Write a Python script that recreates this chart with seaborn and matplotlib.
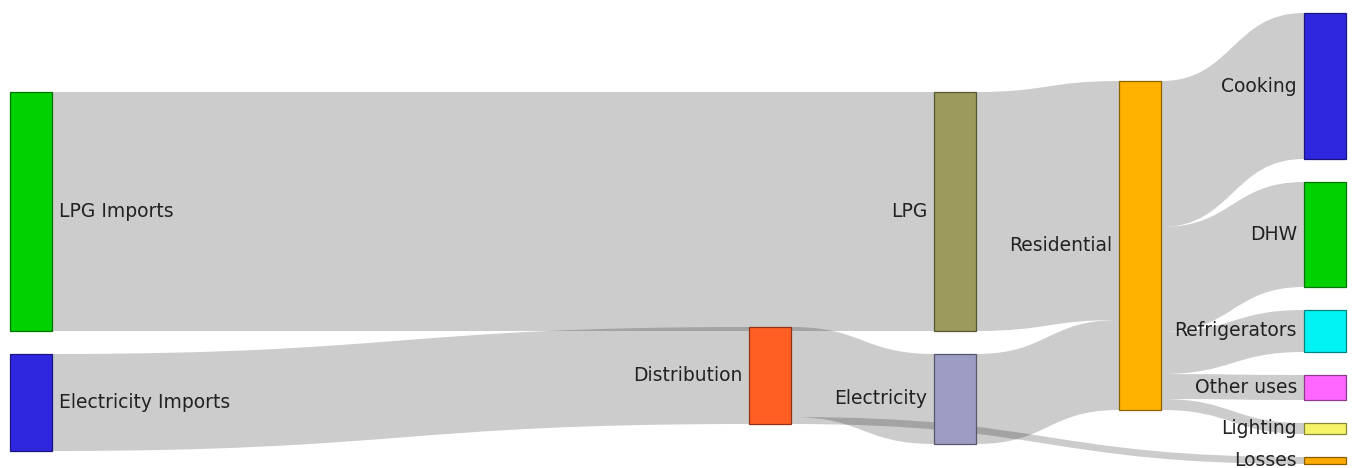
import matplotlib
matplotlib.use("Agg")
import matplotlib.pyplot as plt
from matplotlib.path import Path
from matplotlib.patches import PathPatch, Rectangle
import matplotlib.colors as mcolors
import seaborn as sns

# data
node_labels = ["LPG Imports", "Electricity Imports", "Distribution", "LPG", "Electricity",
               "Residential", "Cooking", "DHW", "Refrigerators", "Other uses", "Lighting", "Losses"]
link_source = [0, 1, 2, 2, 3, 4, 5, 5, 5, 5, 5]
link_target = [3, 2, 4, 11, 5, 5, 6, 7, 8, 9, 10]
link_value = [239, 97, 90, 7, 239, 90, 146, 105, 42, 25, 11]

# layout / style
node_x = [0, 0, 4 / 7, 5 / 7, 5 / 7, 6 / 7, 1, 1, 1, 1, 1, 1]
col_top = {0: 92, 4 / 7: 327, 5 / 7: 92, 6 / 7: 81, 1: 13}
node_colors = ["#00d100", "#2f27df", "#ff5f22", "#9c9a5c", "#9c9cc4", "#ffb300",
               "#2f27df", "#00d100", "#00f2f2", "#ff66ff", "#f4f466", "#ffaa00"]
W, H = 1358, 468
left, span, nw, pad = 10, 1294, 42, 23
link_rgba = (0, 0, 0, 0.2)

sns.set_style("white")
plt.rcParams['font.family'] = ['DejaVu Sans']

fig = plt.figure(figsize=(W / 100, H / 100), dpi=100)
ax = fig.add_axes([0, 0, 1, 1])
ax.set_xlim(0, W)
ax.set_ylim(H, 0)
ax.axis("off")

n = len(node_labels)
vin = [0] * n
vout = [0] * n
for s, t, v in zip(link_source, link_target, link_value):
    vout[s] += v
    vin[t] += v
node_val = [max(a, b) for a, b in zip(vin, vout)]

# stack nodes inside each column
node_y0 = [0] * n
cursor = dict(col_top)
for i in range(n):
    c = node_x[i]
    node_y0[i] = cursor[c]
    cursor[c] += node_val[i] + pad
node_x0 = [left + f * span for f in node_x]

# link offsets: ordered by the other end's position
src_off = {}
tgt_off = {}
for i in range(n):
    outs = sorted([k for k in range(len(link_value)) if link_source[k] == i],
                  key=lambda k: node_y0[link_target[k]])
    y = node_y0[i]
    for k in outs:
        src_off[k] = y
        y += link_value[k]
    ins = sorted([k for k in range(len(link_value)) if link_target[k] == i],
                 key=lambda k: node_y0[link_source[k]])
    y = node_y0[i]
    for k in ins:
        tgt_off[k] = y
        y += link_value[k]

for k, v in enumerate(link_value):
    s, t = link_source[k], link_target[k]
    x0 = node_x0[s] + nw
    x1 = node_x0[t]
    xm = (x0 + x1) / 2
    a0, a1 = src_off[k], tgt_off[k]
    verts = [(x0, a0), (xm, a0), (xm, a1), (x1, a1),
             (x1, a1 + v), (xm, a1 + v), (xm, a0 + v), (x0, a0 + v), (x0, a0)]
    codes = [Path.MOVETO, Path.CURVE4, Path.CURVE4, Path.CURVE4,
             Path.LINETO, Path.CURVE4, Path.CURVE4, Path.CURVE4, Path.CLOSEPOLY]
    ax.add_patch(PathPatch(Path(verts, codes), facecolor=link_rgba, edgecolor="none", zorder=1))

for i in range(n):
    fc = node_colors[i]
    ec = tuple(c * 0.55 for c in mcolors.to_rgb(fc))
    ax.add_patch(Rectangle((node_x0[i], node_y0[i]), nw, node_val[i],
                           facecolor=fc, edgecolor=ec, linewidth=0.9, zorder=3))
    yc = node_y0[i] + node_val[i] / 2
    if node_x[i] < 0.5:
        ax.text(node_x0[i] + nw + 7, yc, node_labels[i], ha="left", va="center",
                fontsize=13.5, color="#222222", zorder=4)
    else:
        ax.text(node_x0[i] - 7, yc, node_labels[i], ha="right", va="center",
                fontsize=13.5, color="#222222", zorder=4)

fig.savefig("out.png", dpi=100)
